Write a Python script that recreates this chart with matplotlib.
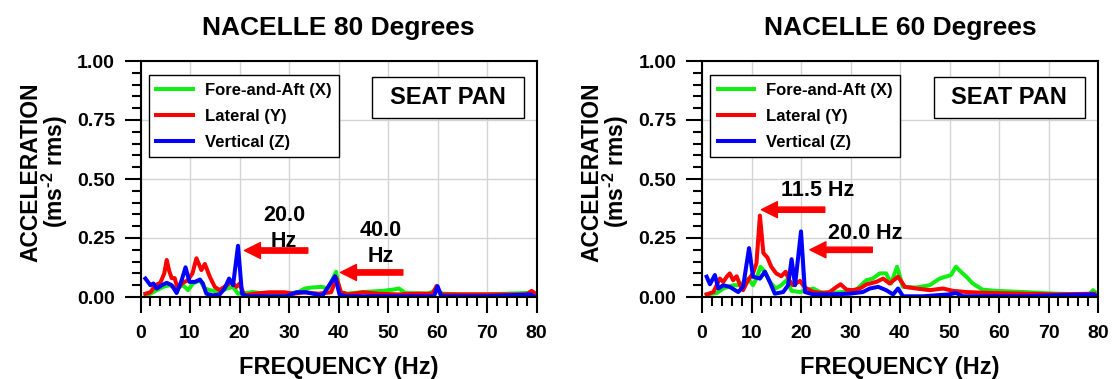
import matplotlib
matplotlib.use("Agg")
import matplotlib.pyplot as plt
from matplotlib.patches import Rectangle
from matplotlib.ticker import MultipleLocator, FormatStrFormatter

plt.rcParams['font.family'] = ['Liberation Sans', 'DejaVu Sans']
plt.rcParams['font.weight'] = 'bold'
plt.rcParams['mathtext.fontset'] = 'custom'
plt.rcParams['mathtext.bf'] = 'Liberation Sans:bold'
plt.rcParams['mathtext.rm'] = 'Liberation Sans:bold'

# ---------------- data ----------------
titles = ["NACELLE 80 Degrees", "NACELLE 60 Degrees"]
series_names = ["Fore-and-Aft (X)", "Lateral (Y)", "Vertical (Z)"]
series_colors = ["#11ee11", "#ff0000", "#0000ff"]

# NACELLE 80
n80_x_f = [1.0, 2.0, 3.3, 4.6, 5.9, 7.3, 8.6, 9.6, 10.6, 12.0, 13.0, 14.0, 16.0, 17.4, 18.7, 19.7,
           21.4, 22.7, 24.0, 26.0, 28.0, 30.0, 31.9, 33.2, 34.6, 36.5, 37.9, 39.5, 40.3, 41.6, 45.0,
           48.9, 50.9, 52.2, 53.5, 58.0, 59.8, 61.0, 65.0, 70.0, 78.0, 79.5]
n80_x_a = [0.007, 0.014, 0.029, 0.043, 0.05, 0.036, 0.05, 0.029, 0.057, 0.071, 0.036, 0.029, 0.021, 0.036, 0.043, 0.014,
           0.017, 0.021, 0.017, 0.014, 0.017, 0.014, 0.021, 0.036, 0.04, 0.043, 0.036, 0.107, 0.021, 0.014, 0.021,
           0.026, 0.031, 0.036, 0.017, 0.014, 0.03, 0.014, 0.011, 0.011, 0.017, 0.014]

n80_y_f = [1.0, 2.0, 3.0, 4.0, 4.8, 5.3, 5.8, 6.3, 6.9, 7.5, 8.5, 9.5, 10.5, 11.3, 12.3, 13.0, 14.0, 15.0,
           16.0, 17.4, 18.4, 19.4, 20.0, 21.0, 23.0, 26.0, 29.0, 31.0, 33.0, 36.0, 38.5, 39.6, 40.5, 42.0,
           45.0, 48.0, 52.0, 56.0, 59.0, 59.8, 60.6, 65.0, 70.0, 75.0, 78.0, 79.0, 80.0]
n80_y_a = [0.014, 0.02, 0.05, 0.06, 0.1, 0.157, 0.11, 0.08, 0.08, 0.036, 0.06, 0.07, 0.1, 0.164, 0.114, 0.14, 0.086, 0.043,
           0.029, 0.05, 0.064, 0.043, 0.057, 0.007, 0.014, 0.02, 0.02, 0.014, 0.02, 0.014, 0.02, 0.08, 0.02, 0.011,
           0.02, 0.014, 0.011, 0.014, 0.014, 0.046, 0.011, 0.011, 0.011, 0.011, 0.011, 0.026, 0.011]

n80_z_f = [1.0, 2.0, 2.6, 3.3, 4.3, 5.3, 6.3, 7.3, 8.3, 9.1, 9.9, 11.0, 12.0, 12.6, 13.3, 14.6, 16.0, 17.0,
           17.9, 18.7, 19.7, 20.5, 21.5, 25.0, 29.5, 31.5, 33.5, 35.5, 36.8, 39.3, 40.2, 41.5, 50.0, 59.3,
           60.0, 60.8, 70.0, 78.8, 79.5]
n80_z_a = [0.078, 0.05, 0.057, 0.036, 0.05, 0.06, 0.05, 0.017, 0.07, 0.126, 0.064, 0.064, 0.074, 0.057, 0.014, 0.007, 0.011, 0.036,
           0.078, 0.05, 0.217, 0.014, 0.003, 0.003, 0.003, 0.02, 0.02, 0.011, 0.007, 0.088, 0.011, 0.003, 0.003, 0.003,
           0.046, 0.003, 0.003, 0.011, 0.003]

# NACELLE 60
n60_x_f = [0.94, 3.0, 4.3, 6.3, 7.7, 9.3, 10.3, 11.0, 11.8, 12.7, 13.7, 14.9, 16.0, 17.1, 18.1, 19.8, 21.1,
           22.5, 23.8, 25.8, 28.5, 31.2, 33.2, 34.5, 35.9, 37.2, 38.2, 39.4, 40.6, 43.3, 46.0, 48.0, 50.3,
           51.3, 52.3, 53.4, 54.7, 56.7, 59.4, 64.8, 71.5, 78.2, 79.0, 80.0]
n60_x_a = [0.011, 0.017, 0.036, 0.05, 0.05, 0.078, 0.05, 0.078, 0.128, 0.107, 0.064, 0.036, 0.05, 0.071, 0.026, 0.021, 0.029,
           0.036, 0.021, 0.017, 0.021, 0.031, 0.071, 0.078, 0.1, 0.1, 0.057, 0.128, 0.043, 0.04, 0.05, 0.078, 0.093,
           0.128, 0.107, 0.086, 0.057, 0.031, 0.026, 0.021, 0.014, 0.011, 0.029, 0.01]

n60_y_f = [0.94, 2.3, 3.6, 4.3, 5.0, 5.6, 6.3, 7.0, 7.7, 8.3, 9.3, 10.3, 11.0, 11.7, 12.4, 13.2, 14.0, 15.0,
           16.0, 16.9, 17.6, 18.4, 19.8, 20.8, 22.5, 24.5, 25.8, 27.2, 28.0, 29.2, 30.5, 31.9, 33.2, 35.2,
           36.6, 37.9, 39.6, 41.0, 43.3, 46.0, 48.7, 50.7, 53.4, 58.0, 64.8, 71.5, 79.2]
n60_y_a = [0.011, 0.021, 0.078, 0.064, 0.086, 0.1, 0.071, 0.088, 0.05, 0.029, 0.071, 0.1, 0.143, 0.345, 0.186, 0.168, 0.128, 0.1,
           0.088, 0.107, 0.071, 0.05, 0.068, 0.04, 0.021, 0.017, 0.021, 0.043, 0.054, 0.031, 0.029, 0.036, 0.053, 0.064,
           0.078, 0.057, 0.086, 0.043, 0.036, 0.029, 0.036, 0.026, 0.021, 0.017, 0.014, 0.011, 0.014]

n60_z_f = [0.94, 1.6, 2.6, 3.3, 4.3, 5.6, 7.3, 8.3, 9.5, 10.3, 11.7, 12.7, 13.7, 14.7, 16.4, 17.4, 18.1,
           18.8, 20.0, 20.8, 22.5, 25.8, 29.8, 32.5, 33.9, 35.6, 37.2, 38.6, 39.6, 40.6, 44.6, 49.9, 51.3,
           52.7, 65.0, 79.0, 80.0]
n60_z_a = [0.086, 0.054, 0.093, 0.036, 0.05, 0.043, 0.021, 0.043, 0.207, 0.086, 0.078, 0.107, 0.064, 0.014, 0.021, 0.05, 0.16,
           0.05, 0.278, 0.021, 0.011, 0.011, 0.014, 0.021, 0.036, 0.043, 0.029, 0.011, 0.036, 0.003, 0.003, 0.011, 0.017,
           0.003, 0.003, 0.011, 0.003]

panels = [
    [(n80_x_f, n80_x_a), (n80_y_f, n80_y_a), (n80_z_f, n80_z_a)],
    [(n60_x_f, n60_x_a), (n60_y_f, n60_y_a), (n60_z_f, n60_z_a)],
]

# annotations: (text, text_x, text_y, arrow_tail_x, arrow_head_x, arrow_y)
annots = [
    [("20.0\nHz", 29.0, 0.29, 33.8, 21.0, 0.197),
     ("40.0\nHz", 48.5, 0.225, 53.0, 40.4, 0.104)],
    [("11.5 Hz", 23.4, 0.45, 24.8, 12.0, 0.37),
     ("20.0 Hz", 32.9, 0.27, 34.4, 21.8, 0.20)],
]

# ---------------- figure ----------------
W, H = 1112, 379
fig = plt.figure(figsize=(W / 100, H / 100), dpi=100)

ax_lefts = [140.5, 702.0]
ax_w = 396.0
ax_bottom_px = 297.0
ax_top_px = 61.0

for i, x0 in enumerate(ax_lefts):
    ax = fig.add_axes([x0 / W, 1 - ax_bottom_px / H, ax_w / W, (ax_bottom_px - ax_top_px) / H])
    ax.set_xlim(0, 80)
    ax.set_ylim(0, 1.0)
    for (f, a), c in zip(panels[i], series_colors):
        ax.plot(f, a, color=c, lw=2.9, solid_joinstyle='round')
    ax.xaxis.set_major_locator(MultipleLocator(10))
    ax.xaxis.set_minor_locator(MultipleLocator(2))
    ax.yaxis.set_major_locator(MultipleLocator(0.25))
    ax.yaxis.set_minor_locator(MultipleLocator(0.05))
    ax.yaxis.set_major_formatter(FormatStrFormatter('%.2f'))
    ax.tick_params(which='major', direction='out', length=11.5, width=1.5, labelsize=14)
    ax.tick_params(axis='x', which='major', pad=9)
    ax.tick_params(axis='y', which='major', pad=7)
    ax.tick_params(which='minor', direction='out', length=6.5, width=1.5)
    for lab in ax.get_xticklabels() + ax.get_yticklabels():
        lab.set_fontweight('bold')
    ax.grid(True, which='major', color='#d4d4d4', lw=1.0)
    ax.set_axisbelow(True)
    for s in ax.spines.values():
        s.set_linewidth(1.5)

    ax.set_title(titles[i], fontsize=19, fontweight='bold', pad=19)
    ax.set_xlabel("FREQUENCY (Hz)", fontsize=17, fontweight='bold', labelpad=10)

    leg = ax.legend(series_names, loc='upper left', bbox_to_anchor=(0.021, 0.94), borderaxespad=0,
                    fontsize=12, handlelength=2.2, handletextpad=0.7, labelspacing=0.66,
                    fancybox=False, framealpha=1, edgecolor='black', borderpad=0.45)
    leg.get_frame().set_linewidth(1.0)
    for h in leg.get_lines():
        h.set_linewidth(2.9)
    for t in leg.get_texts():
        t.set_fontweight('bold')

    ax.add_patch(Rectangle((0.585, 0.758), 0.383, 0.175, transform=ax.transAxes,
                           facecolor='white', edgecolor='black', lw=1.0, zorder=5))
    ax.text(0.776, 0.846, "SEAT PAN", transform=ax.transAxes, ha='center', va='center',
            fontsize=17, fontweight='bold', zorder=6)

    for (txt, tx, ty, x_tail, x_head, ay) in annots[i]:
        ax.text(tx, ty, txt, ha='center', va='center', fontsize=15.5, fontweight='bold',
                linespacing=1.3)
        ax.annotate('', xy=(x_head, ay), xytext=(x_tail, ay),
                    arrowprops=dict(arrowstyle='simple,head_length=1.15,head_width=1.15,tail_width=0.38',
                                    color='red', shrinkA=0, shrinkB=0, mutation_scale=10))

# y labels
for x0 in ax_lefts:
    fig.text((x0 - 110) / W, 1 - 172 / H, "ACCELERATION", rotation=90, ha='center', va='center',
             fontsize=16.5, fontweight='bold')
    fig.text((x0 - 86) / W, 1 - 172 / H, r"(m$\mathbf{s}^{\text{-2}}$ rms)", rotation=90,
             ha='center', va='center', fontsize=16.5, fontweight='bold')

fig.savefig("out.png", dpi=100)
